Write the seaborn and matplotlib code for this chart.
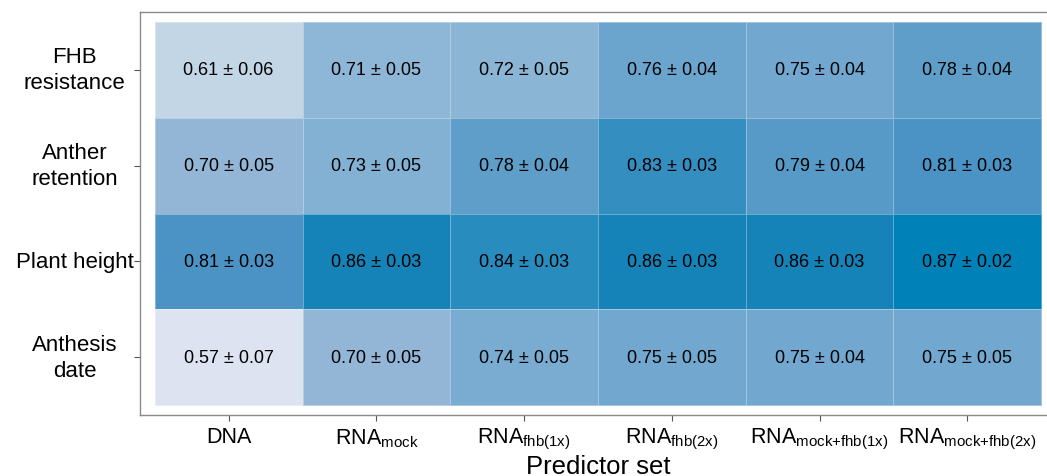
import numpy as np
import pandas as pd
import matplotlib
matplotlib.use("Agg")
import matplotlib.pyplot as plt
import seaborn as sns
from matplotlib.colors import LinearSegmentedColormap

# -------------------------
# Data
# -------------------------
traits = ["FHB\nresistance", "Anther\nretention", "Plant height", "Anthesis\ndate"]
predictor_sets = [
    "DNA",
    r"RNA$_{\mathrm{mock}}$",
    r"RNA$_{\mathrm{fhb(1x)}}$",
    r"RNA$_{\mathrm{fhb(2x)}}$",
    r"RNA$_{\mathrm{mock{+}fhb(1x)}}$",
    r"RNA$_{\mathrm{mock{+}fhb(2x)}}$",
]

fhb_mean    = [0.61, 0.71, 0.72, 0.76, 0.75, 0.78]
fhb_sd      = [0.06, 0.05, 0.05, 0.04, 0.04, 0.04]
anther_mean = [0.70, 0.73, 0.78, 0.83, 0.79, 0.81]
anther_sd   = [0.05, 0.05, 0.04, 0.03, 0.04, 0.03]
height_mean = [0.81, 0.86, 0.84, 0.86, 0.86, 0.87]
height_sd   = [0.03, 0.03, 0.03, 0.03, 0.03, 0.02]
date_mean   = [0.57, 0.70, 0.74, 0.75, 0.75, 0.75]
date_sd     = [0.07, 0.05, 0.05, 0.05, 0.04, 0.05]

means = pd.DataFrame([fhb_mean, anther_mean, height_mean, date_mean],
                     index=traits, columns=predictor_sets)
sds = pd.DataFrame([fhb_sd, anther_sd, height_sd, date_sd],
                   index=traits, columns=predictor_sets)
labels = means.map(lambda v: f"{v:.2f}") + " ± " + sds.map(lambda v: f"{v:.2f}")

# -------------------------
# Style
# -------------------------
plt.rcParams['font.family'] = ['Liberation Sans', 'DejaVu Sans']
plt.rcParams['mathtext.fontset'] = 'custom'
plt.rcParams['mathtext.rm'] = 'Liberation Sans'
plt.rcParams['mathtext.it'] = 'Liberation Sans:italic'
plt.rcParams['mathtext.bf'] = 'Liberation Sans:bold'

vmin, vmax = 0.57, 0.87
anchors = [
    (0.57, "#dde3f1"), (0.61, "#c3d6e6"), (0.70, "#93b6d7"),
    (0.72, "#8ab5d5"), (0.75, "#72a8cf"), (0.78, "#5e9ec9"),
    (0.81, "#4a93c4"), (0.84, "#2a8cbe"), (0.86, "#1683b7"),
    (0.87, "#0081b8"),
]
cmap = LinearSegmentedColormap.from_list(
    "r2blue", [((v - vmin) / (vmax - vmin), c) for v, c in anchors])

fig = plt.figure(figsize=(10.47, 4.77), dpi=100)
ax = fig.add_axes([140 / 1047, 61 / 477, 916 / 1047, 403 / 477])

sns.heatmap(means, ax=ax, cmap=cmap, vmin=vmin, vmax=vmax, cbar=False,
            annot=labels.values, fmt="", annot_kws={"size": 13, "color": "black"},
            linewidths=0.6, linecolor=(1, 1, 1, 0.35))

ax.set_xlim(-0.1, 6.1)
ax.set_ylim(4.1, -0.1)

for name in ["left", "top", "bottom"]:
    ax.spines[name].set_visible(True)
    ax.spines[name].set_color("#8a8a8a")
    ax.spines[name].set_linewidth(1.0)
ax.spines["right"].set_visible(False)

ax.tick_params(axis="both", length=4, width=0.8, color="#555555", colors="black")
ax.tick_params(axis="x", labelsize=15.5, pad=4)
ax.tick_params(axis="y", labelsize=16, pad=43)
plt.setp(ax.get_yticklabels(), rotation=0, ha="center",
         multialignment="center", linespacing=1.3)
plt.setp(ax.get_xticklabels(), rotation=0)

ax.set_xlabel("Predictor set", fontsize=18.5, labelpad=2)
ax.set_ylabel("")

fig.savefig("out.png", dpi=100)
